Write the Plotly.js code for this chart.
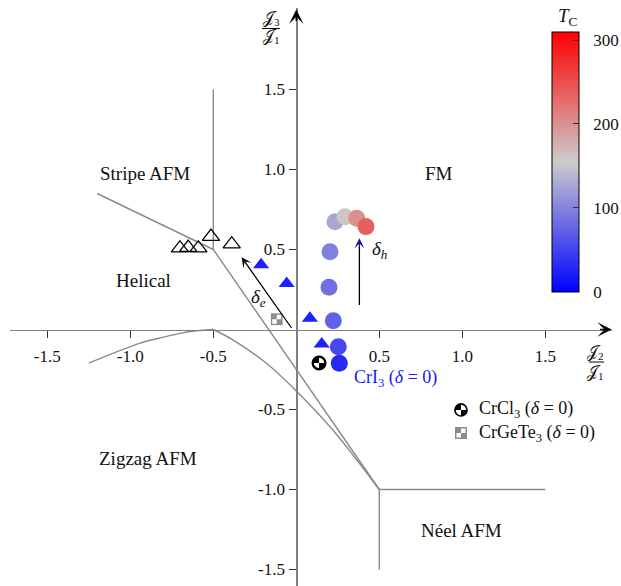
<!DOCTYPE html>
<html><head><meta charset="utf-8">
<script src="https://cdn.plot.ly/plotly-3.0.1.min.js"></script>
<style>html,body{margin:0;padding:0;background:#fff}#chart{width:621px;height:586px}</style>
</head><body><div id="chart"></div>
<script>
// ---------------- data ----------------
const tickVals = [-1.5, -1.0, -0.5, 0.5, 1.0, 1.5];
const tickText = ['-1.5', '-1.0', '-0.5', '0.5', '1.0', '1.5'];
const cbTickVals = [0, 100, 200, 300];
const cbTickText = ['0', '100', '200', '300'];

// CrI3 under hole doping (delta_h), coloured by Tc
const crI3_J2 = [0.259, 0.253, 0.223, 0.197, 0.203, 0.233, 0.293, 0.364, 0.420];
const crI3_J3 = [-0.211, -0.108, 0.055, 0.264, 0.486, 0.674, 0.705, 0.695, 0.643];
const crI3_Tc = [31, 54, 74, 85, 97, 128, 160, 201, 237];

// CrI3 under electron doping (delta_e), filled blue triangles
const elec_J2 = [-0.212, -0.058, 0.082, 0.153];
const elec_J3 = [0.405, 0.288, 0.070, -0.090];

// open triangles (non-FM)
const open_J2 = [-0.701, -0.651, -0.590, -0.514, -0.389];
const open_J3 = [0.508, 0.512, 0.508, 0.581, 0.533];

const crCl3_J2 = [0.137], crCl3_J3 = [-0.209];
const crGeTe3_J2 = [-0.118], crGeTe3_J3 = [0.064];

// phase boundaries
const bLine_x = [-1.2, -0.5, null, -0.5, -0.5, null, -0.5, 0.5, null, 0.5, 1.5, null, 0.5, 0.5];
const bLine_y = [0.85, 0.5, null, 0.5, 1.5, null, 0.5, -1.0, null, -1.0, -1.0, null, -1.0, -1.5];
const bLeft_x = [-1.25, -0.94, -0.80, -0.70, -0.60, -0.5];
const bLeft_y = [-0.21, -0.085, -0.048, -0.024, -0.008, 0];
const bRight_x = [-0.5, -0.38, -0.18, 0, 0.22, 0.5];
const bRight_y = [0, -0.066, -0.211, -0.384, -0.628, -1.0];

// region labels
const regionText = ['Stripe AFM', 'FM', 'Helical', 'Zigzag AFM', 'Néel AFM'];
const regionX = [-0.911, 0.861, -0.923, -0.893, 0.998];
const regionY = [0.972, 0.972, 0.309, -0.809, -1.259];

// doping arrows [tailX, tailY, headX, headY]
const deltaE = [-0.022, 0.0, -0.329, 0.451];
const deltaH = [0.380, 0.143, 0.380, 0.570];

// legend rows
const legendText = ['CrCl<sub>3</sub> (<i>δ</i> = 0)', 'CrGeTe<sub>3</sub> (<i>δ</i> = 0)'];
const legendY = [-0.503, -0.647];

// ---------------- layout helpers ----------------
const X_RANGE = [-1.7247, 1.9018], Y_RANGE = [-1.6031, 2.0094];
const xPos = (0 - Y_RANGE[0]) / (Y_RANGE[1] - Y_RANGE[0]);
const yPos = (0 - X_RANGE[0]) / (X_RANGE[1] - X_RANGE[0]);
const FONT = 'Liberation Serif, Times New Roman, serif';
const GRAY = '#8a8a8a';

const svgCl = "<svg xmlns='http://www.w3.org/2000/svg' viewBox='0 0 20 20'><circle cx='10' cy='10' r='8.6' fill='white' stroke='black' stroke-width='2.4'/><path d='M10 10 L10 1.4 A8.6 8.6 0 0 0 1.4 10 Z M10 10 L10 18.6 A8.6 8.6 0 0 0 18.6 10 Z' fill='black'/></svg>";
const svgGe = "<svg xmlns='http://www.w3.org/2000/svg' viewBox='0 0 12 12'><rect x='0' y='0' width='12' height='12' fill='#8c8c8c'/><rect x='6' y='1.5' width='4.5' height='4.5' fill='white'/><rect x='1.5' y='6' width='4.5' height='4.5' fill='white'/></svg>";
const uri = s => 'data:image/svg+xml;charset=utf-8,' + encodeURIComponent(s);

const traces = [
  {x: bLine_x, y: bLine_y, mode: 'lines', line: {color: GRAY, width: 1.4}, hoverinfo: 'skip'},
  {x: bLeft_x, y: bLeft_y, mode: 'lines', line: {color: GRAY, width: 1.4, shape: 'spline'}, hoverinfo: 'skip'},
  {x: bRight_x, y: bRight_y, mode: 'lines', line: {color: GRAY, width: 1.4, shape: 'spline'}, hoverinfo: 'skip'},
  {x: open_J2, y: open_J3, mode: 'markers', marker: {symbol: 'triangle-up-open', size: 15, color: '#000', line: {width: 1.3}}},
  {x: elec_J2, y: elec_J3, mode: 'markers', marker: {symbol: 'triangle-up', size: 14, color: 'rgb(30,30,255)'}},
  {x: crCl3_J2, y: crCl3_J3, mode: 'markers', marker: {symbol: 'circle', size: 13, color: 'white', line: {color: '#000', width: 2}}},
  {x: crGeTe3_J2, y: crGeTe3_J3, mode: 'markers', marker: {symbol: 'square', size: 11, color: '#8c8c8c'}},
  {x: crI3_J2, y: crI3_J3, mode: 'markers',
   marker: {size: 17, color: crI3_Tc, cmin: 0, cmax: 310,
     colorscale: [[0, 'rgb(0,0,255)'], [0.5, 'rgb(204,204,204)'], [1, 'rgb(255,0,0)']],
     showscale: true,
     colorbar: {x: 0.8998, xanchor: 'left', y: 0.959, yanchor: 'top', xpad: 0, ypad: 0,
       len: 260, lenmode: 'pixels', thickness: 27, thicknessmode: 'pixels',
       outlinewidth: 1, outlinecolor: '#000', tickmode: 'array', tickvals: cbTickVals,
       ticktext: cbTickText.map(t => '\u2002\u200A' + t),
       ticks: 'inside', ticklen: 6, tickwidth: 1, tickcolor: '#333',
       tickfont: {family: FONT, size: 17, color: '#111'}}}}
];

const ann = [];
regionText.forEach((t, i) => ann.push({x: regionX[i], y: regionY[i], text: t, showarrow: false, font: {size: 19}}));
ann.push({x: 0.595, y: -0.309, text: 'CrI<sub>3</sub> (<i>δ</i> = 0)', showarrow: false, font: {size: 18, color: 'rgb(25,25,235)'}});
ann.push({x: -0.229, y: 0.197, text: '<i>δ<sub>e</sub></i>', showarrow: false, font: {size: 19}});
ann.push({x: 0.504, y: 0.497, text: '<i>δ<sub>h</sub></i>', showarrow: false, font: {size: 19}});
// doping arrows
ann.push({x: deltaE[2], y: deltaE[3], ax: deltaE[0], ay: deltaE[1], axref: 'x', ayref: 'y', text: '', showarrow: true, arrowhead: 3, arrowsize: 1.3, arrowwidth: 1.3, arrowcolor: '#000'});
ann.push({x: deltaH[2], y: deltaH[3] - 0.05, ax: deltaH[0], ay: deltaH[1], axref: 'x', ayref: 'y', text: '', showarrow: true, arrowhead: 0, arrowwidth: 1.3, arrowcolor: '#000'});
ann.push({x: deltaH[2], y: deltaH[3], ax: deltaH[2], ay: deltaH[3] - 0.06, axref: 'x', ayref: 'y', text: '', showarrow: true, arrowhead: 3, arrowsize: 1.3, arrowwidth: 1.3, arrowcolor: '#14149a'});
// axis arrowheads
ann.push({x: 1.90, y: 0, ax: -13, ay: 0, text: '', showarrow: true, arrowhead: 3, arrowsize: 1.5, arrowwidth: 1.6, arrowcolor: '#000'});
ann.push({x: 0, y: 2.0, ax: 0, ay: 13, text: '', showarrow: true, arrowhead: 3, arrowsize: 1.5, arrowwidth: 1.6, arrowcolor: '#000'});
// legend text
legendText.forEach((t, i) => ann.push({x: 1.088, y: legendY[i], text: t, xanchor: 'left', showarrow: false, font: {size: 18}}));
// axis titles (fractions) and colourbar title, paper coordinates
const P = (x, y, text, size) => ({xref: 'paper', yref: 'paper', x: x, y: y, xanchor: 'center', yanchor: 'middle', text: text, showarrow: false, font: {size: size}});
ann.push(P(0.9734, 0.4048, '𝒥<sub>2</sub>', 16));
ann.push(P(0.9734, 0.3702, '𝒥<sub>1</sub>', 16));
ann.push(P(0.4336, 0.981, '𝒥<sub>3</sub>', 16));
ann.push(P(0.4336, 0.950, '𝒥<sub>1</sub>', 16));
ann.push(P(0.927, 0.984, '<i>T</i><sub>C</sub>', 19));

const images = [
  {source: uri(svgCl), xref: 'x', yref: 'y', x: crCl3_J2[0], y: crCl3_J3[0], sizex: 14 / 166, sizey: 14 / 160, xanchor: 'center', yanchor: 'middle', sizing: 'stretch', layer: 'above'},
  {source: uri(svgGe), xref: 'x', yref: 'y', x: crGeTe3_J2[0], y: crGeTe3_J3[0], sizex: 12 / 166, sizey: 12 / 160, xanchor: 'center', yanchor: 'middle', sizing: 'stretch', layer: 'above'},
  {source: uri(svgCl), xref: 'x', yref: 'y', x: 0.992, y: legendY[0], sizex: 14 / 166, sizey: 14 / 160, xanchor: 'center', yanchor: 'middle', sizing: 'stretch', layer: 'above'},
  {source: uri(svgGe), xref: 'x', yref: 'y', x: 0.992, y: legendY[1], sizex: 12 / 166, sizey: 12 / 160, xanchor: 'center', yanchor: 'middle', sizing: 'stretch', layer: 'above'}
];

const shapes = [
  {type: 'line', xref: 'paper', yref: 'paper', x0: 0.9618, x1: 0.9867, y0: 0.3875, y1: 0.3875, line: {color: '#000', width: 1}},
  {type: 'line', xref: 'paper', yref: 'paper', x0: 0.4186, x1: 0.4485, y0: 0.9645, y1: 0.9645, line: {color: '#000', width: 1}}
];

const axisCommon = {showgrid: false, zeroline: false, showline: true, linecolor: '#808080', linewidth: 1.6,
  ticks: 'outside', ticklen: 7, tickwidth: 1.2, tickcolor: '#333', tickmode: 'array',
  tickvals: tickVals, ticktext: tickText, tickfont: {family: FONT, size: 17, color: '#111'}, anchor: 'free'};

const layout = {
  width: 621, height: 586, margin: {l: 10, r: 9, t: 8, b: 0, autoexpand: false},
  paper_bgcolor: '#fff', plot_bgcolor: '#fff', showlegend: false,
  font: {family: FONT, size: 17, color: '#111'},
  xaxis: Object.assign({}, axisCommon, {range: X_RANGE, position: xPos, ticklabelstandoff: 3}),
  yaxis: Object.assign({}, axisCommon, {range: Y_RANGE, position: yPos, ticklabelstandoff: 1}),
  annotations: ann, images: images, shapes: shapes
};

Plotly.newPlot('chart', traces, layout, {displayModeBar: false, staticPlot: true});
</script></body></html>
